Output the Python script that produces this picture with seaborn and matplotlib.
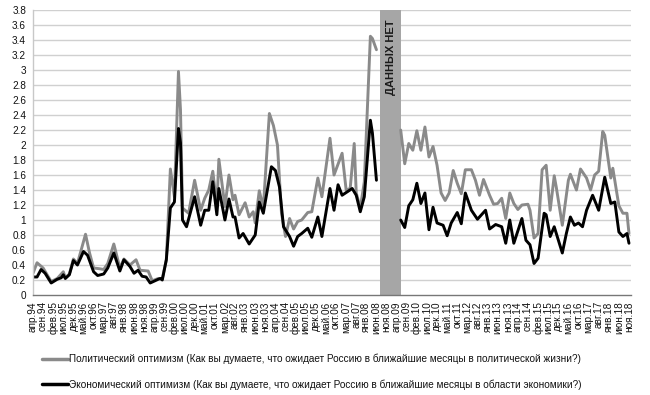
import matplotlib
matplotlib.use("Agg")
import matplotlib.pyplot as plt
import seaborn as sns
import pandas as pd

# Индексы месяцев отсчитываются от апреля 1994 (0 = апр.94, 295 = ноя.18)
pol_month = [0, 2, 5, 7, 9, 12, 15, 16, 18, 20, 22, 26, 28, 30, 33, 35, 37, 40, 43, 45,
             48, 51, 53, 57, 59, 62, 64, 66, 68, 70, 72, 73, 74, 77, 80, 83, 85, 87, 89, 91,
             92, 95, 97, 99, 100, 102, 105, 107, 109, 110, 112, 114, 117, 119, 121, 123, 125, 127, 129, 131,
             133, 136, 138, 141, 143, 147, 149, 153, 155, 157, 159, 160, 162, 164, 167, 168, 170,
             182, 184, 186, 188, 190, 192, 194, 196, 198, 200, 202, 204, 206, 208, 210, 212, 214, 217,
             219, 221, 223, 226, 228, 230, 232, 234, 236, 238, 240, 242, 245, 246, 248, 250, 252, 254,
             256, 258, 259, 262, 265, 266, 269, 271, 274, 276, 278, 280, 282, 283, 286, 287, 290, 292,
             294, 295]
pol_value = [0.29, 0.43, 0.36, 0.27, 0.18, 0.22, 0.31, 0.23, 0.28, 0.48, 0.42, 0.81, 0.56, 0.36, 0.35, 0.34, 0.42, 0.68, 0.36, 0.48,
             0.40, 0.47, 0.33, 0.32, 0.19, 0.22, 0.22, 0.47, 1.68, 1.31, 2.98, 2.47, 1.16, 1.09, 1.53, 1.13, 1.29, 1.40, 1.65, 1.18,
             1.81, 1.18, 1.60, 1.27, 1.33, 1.07, 1.23, 1.04, 1.11, 0.96, 1.39, 1.16, 2.42, 2.26, 2.00, 1.09, 0.78, 1.02, 0.88, 0.98,
             1.00, 1.10, 1.11, 1.56, 1.31, 2.09, 1.60, 1.89, 1.40, 1.42, 2.02, 1.36, 1.16, 1.51, 3.45, 3.42, 3.27,
             2.20, 1.75, 2.02, 1.93, 2.19, 1.93, 2.24, 1.84, 1.98, 1.73, 1.36, 1.26, 1.36, 1.66, 1.49, 1.35, 1.67, 1.67,
             1.53, 1.33, 1.54, 1.33, 1.21, 1.22, 1.29, 1.02, 1.36, 1.22, 1.14, 1.20, 1.21, 1.13, 0.76, 0.82, 1.67, 1.73,
             1.13, 1.59, 1.44, 0.93, 1.53, 1.61, 1.40, 1.68, 1.56, 1.40, 1.60, 1.65, 2.18, 2.13, 1.56, 1.69, 1.19, 1.09,
             1.09, 0.82]

eco_month = [0, 2, 4, 6, 9, 12, 14, 15, 16, 18, 20, 22, 25, 27, 30, 32, 35, 37, 40, 43,
             45, 48, 50, 52, 54, 56, 58, 62, 63, 64, 66, 68, 70, 72, 73, 74, 76, 80, 83, 85,
             87, 89, 91, 92, 95, 97, 99, 100, 102, 104, 107, 109, 110, 112, 114, 118, 120, 122, 124, 127,
             129, 131, 133, 136, 138, 141, 143, 147, 149, 151, 153, 158, 160, 162, 164, 167, 168, 170,
             182, 184, 186, 188, 190, 192, 194, 196, 198, 200, 203, 205, 207, 210, 212, 214, 217, 220,
             224, 226, 229, 232, 234, 236, 238, 242, 244, 246, 248, 250, 253, 254, 256, 258, 262, 264,
             266, 268, 270, 272, 274, 277, 280, 283, 286, 288, 290, 292, 294, 295]
eco_value = [0.24, 0.24, 0.34, 0.29, 0.16, 0.21, 0.23, 0.27, 0.22, 0.27, 0.46, 0.40, 0.58, 0.53, 0.31, 0.26, 0.28, 0.36, 0.56, 0.32,
             0.47, 0.38, 0.29, 0.33, 0.25, 0.24, 0.16, 0.21, 0.22, 0.20, 0.47, 1.16, 1.24, 2.22, 2.03, 1.00, 0.91, 1.31, 0.93, 1.13,
             1.13, 1.51, 1.07, 1.42, 1.00, 1.28, 1.04, 1.04, 0.76, 0.82, 0.68, 0.76, 0.80, 1.24, 1.09, 1.71, 1.66, 1.44, 0.91, 0.78,
             0.65, 0.78, 0.82, 0.89, 0.77, 1.04, 0.78, 1.42, 1.13, 1.47, 1.33, 1.42, 1.33, 1.11, 1.31, 2.33, 2.16, 1.53,
             1.00, 0.90, 1.19, 1.27, 1.49, 1.22, 1.36, 0.87, 1.17, 0.96, 0.93, 0.79, 0.96, 1.10, 0.95, 1.36, 1.13, 1.01,
             1.13, 0.88, 0.94, 0.91, 0.69, 1.00, 0.69, 1.02, 0.73, 0.67, 0.42, 0.49, 1.09, 1.07, 0.78, 0.91, 0.56, 0.82,
             1.04, 0.93, 0.96, 0.91, 1.13, 1.33, 1.13, 1.57, 1.22, 1.24, 0.84, 0.78, 0.82, 0.69]

tick_labels = ["апр.94", "сен.94", "фев.95", "июл.95", "дек.95", "май.96", "окт.96", "мар.97", "авг.97", "янв.98",
               "июн.98", "ноя.98", "апр.99", "сен.99", "фев.00", "июл.00", "дек.00", "май.01", "окт.01", "мар.02",
               "авг.02", "янв.03", "июн.03", "ноя.03", "апр.04", "сен.04", "фев.05", "июл.05", "дек.05", "май.06",
               "окт.06", "мар.07", "авг.07", "янв.08", "июн.08", "ноя.08", "апр.09", "сен.09", "фев.10", "июл.10",
               "дек.10", "май.11", "окт.11", "мар.12", "авг.12", "янв.13", "июн.13", "ноя.13", "апр.14", "сен.14",
               "фев.15", "июл.15", "дек.15", "май.16", "окт.16", "мар.17", "авг.17", "янв.18", "июн.18", "ноя.18"]

gap_start, gap_end = 172, 182  # период без данных

pol_label = "Политический оптимизм (Как вы думаете, что ожидает Россию в ближайшие месяцы в политической жизни?)"
eco_label = "Экономический оптимизм (Как вы думаете, что ожидает Россию в ближайшие месяцы в области экономики?)"


def main():
    pol = pd.DataFrame({"month": pol_month, "value": pol_value, "series": pol_label})
    eco = pd.DataFrame({"month": eco_month, "value": eco_value, "series": eco_label})
    df = pd.concat([pol, eco], ignore_index=True)
    df["part"] = (df["month"] > gap_start).astype(int)

    sns.set_theme(style="white")
    plt.rcParams["font.family"] = ["Liberation Sans", "DejaVu Sans"]

    fig = plt.figure(figsize=(6.5, 3.95), dpi=100)
    ax = fig.add_axes([33 / 650, 1 - 295 / 395, 598 / 650, 285 / 395])

    # горизонтальная сетка
    for v in [i * 0.2 for i in range(1, 20)]:
        ax.axhline(v, color="#d0d0d0", linewidth=1.0, zorder=0)

    ax.axvspan(gap_start, gap_end, color="#a6a6a6", zorder=1, linewidth=0)
    ax.text((gap_start + gap_end) / 2, 3.67, "ДАННЫХ НЕТ", rotation=90, ha="center", va="top",
            fontsize=8, fontweight="bold", color="#1a1a1a", zorder=3)

    sns.lineplot(data=df, x="month", y="value", hue="series", units="part", estimator=None,
                 palette={pol_label: "#8a8a8a", eco_label: "#000000"},
                 hue_order=[pol_label, eco_label], linewidth=2.1, ax=ax, zorder=2)

    ax.set_xlim(0, 296)
    ax.set_ylim(0, 3.8)
    ax.set_yticks([i * 0.2 for i in range(20)])
    ax.set_yticklabels([f"{i * 0.2:.1f}".rstrip("0").rstrip(".") if i else "0" for i in range(20)],
                       fontsize=7.2, color="#111111")
    ax.set_xticks(list(range(0, 296, 5)))
    ax.set_xticklabels(tick_labels, rotation=90, fontsize=7.2, color="#111111")
    ax.tick_params(axis="x", direction="out", length=3, width=0.8, color="#777777", pad=1.5)
    ax.tick_params(axis="y", length=0, pad=5)
    ax.set_xlabel("")
    ax.set_ylabel("")

    for side in ["top", "right"]:
        ax.spines[side].set_visible(False)
    ax.spines["left"].set_color("#c8c8c8")
    ax.spines["left"].set_linewidth(1.0)
    ax.spines["bottom"].set_color("#777777")
    ax.spines["bottom"].set_linewidth(1.0)

    sns.move_legend(ax, "upper center", bbox_to_anchor=(312 / 650, 1 - 345 / 395),
                    bbox_transform=fig.transFigure, frameon=False, title=None,
                    fontsize=7.2, labelspacing=1.5, handlelength=2.6, handletextpad=0.1)
    for text in ax.get_legend().get_texts():
        text.set_color("#111111")
    for line in ax.get_legend().get_lines():
        line.set_linewidth(2.5)

    fig.savefig("out.png", dpi=100, facecolor="white")
    plt.close(fig)


if __name__ == "__main__":
    main()
